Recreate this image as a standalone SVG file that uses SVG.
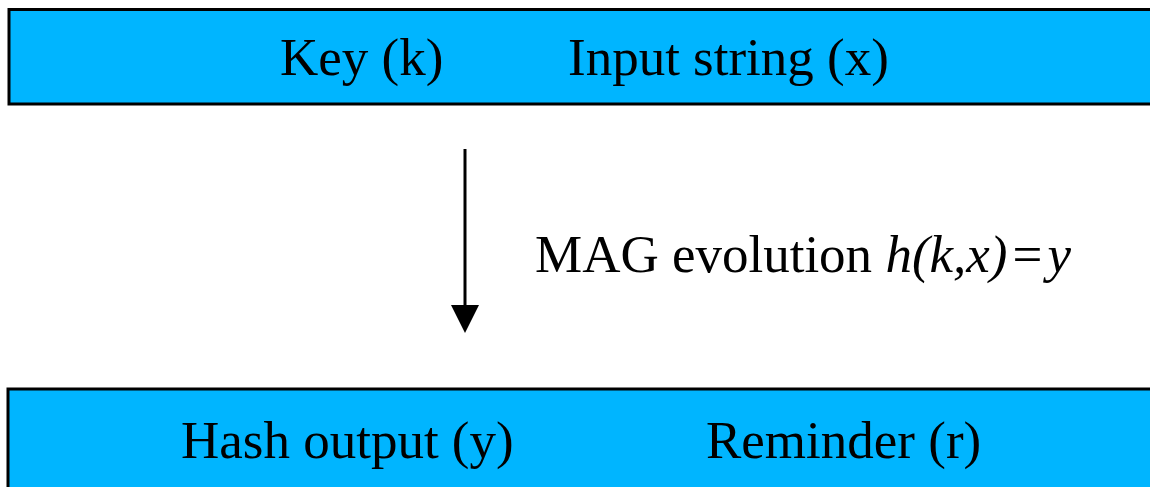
<svg xmlns="http://www.w3.org/2000/svg" width="1150" height="487" viewBox="0 0 1150 487">
  <defs>
    <style>
      .box { fill: #00b5ff; stroke: #000; stroke-width: 3; }
      .lbl { font-family: "Liberation Serif", "Times New Roman", serif; font-size: 53px; fill: #000; }
      .it { font-style: italic; }
      .conn { stroke: #000; stroke-width: 3; fill: none; }
    </style>
  </defs>

  <!-- input block -->
  <g id="input">
    <rect class="box" x="9" y="9.5" width="1160" height="94.5"/>
    <text class="lbl" x="280" y="75">Key (k)</text>
    <text class="lbl" x="568" y="75">Input string (x)</text>
  </g>

  <!-- output block -->
  <g id="output">
    <rect class="box" x="8" y="389" width="1160" height="110"/>
    <text class="lbl" x="181" y="458">Hash output (y)</text>
    <text class="lbl" x="706" y="458">Reminder (r)</text>
  </g>

  <!-- transformation arrow -->
  <g id="connectors">
    <line class="conn" x1="465" y1="149" x2="465" y2="308"/>
    <path d="M451,305 L479,305 L465,333 Z" fill="#000"/>
    <text class="lbl" x="535" y="272">MAG evolution <tspan class="it">h(k,x)</tspan><tspan dx="5">=</tspan><tspan class="it" dx="5">y</tspan></text>
  </g>
</svg>
